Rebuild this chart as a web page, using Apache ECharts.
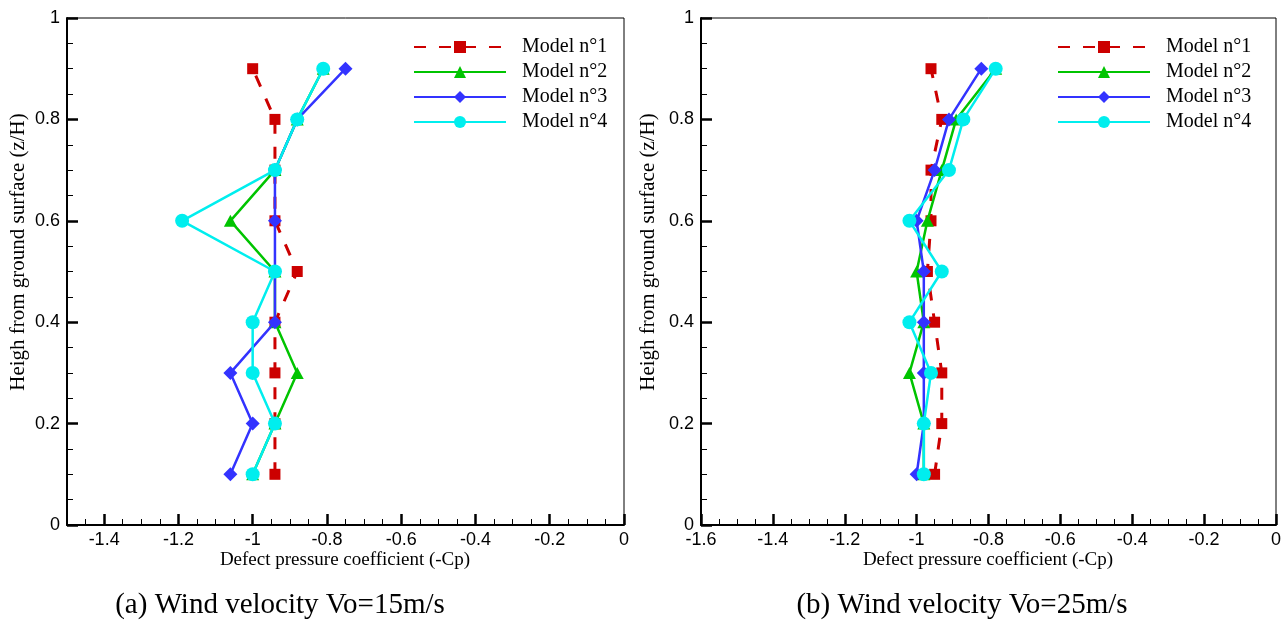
<!DOCTYPE html>
<html>
<head>
<meta charset="utf-8">
<title>Defect pressure coefficient profiles</title>
<script src="https://cdn.jsdelivr.net/npm/echarts@6/dist/echarts.min.js"></script>
<style>
  html, body { margin: 0; padding: 0; background: #fff; }
  #chart { width: 1287px; height: 623px; }
</style>
</head>
<body>
<div id="chart"></div>
<script>
// Measurement heights (z/H)
const heights = [0.1, 0.2, 0.3, 0.4, 0.5, 0.6, 0.7, 0.8, 0.9];
const modelNames = ['Model n°1', 'Model n°2', 'Model n°3', 'Model n°4'];

// (a) Vo = 15 m/s : defect pressure coefficient (-Cp) per height
const m1Vo15 = [-0.94, -0.94, -0.94, -0.94, -0.88, -0.94, -0.94, -0.94, -1.00];
const m2Vo15 = [-1.00, -0.94, -0.88, -0.94, -0.94, -1.06, -0.94, -0.88, -0.81];
const m3Vo15 = [-1.06, -1.00, -1.06, -0.94, -0.94, -0.94, -0.94, -0.88, -0.75];
const m4Vo15 = [-1.00, -0.94, -1.00, -1.00, -0.94, -1.19, -0.94, -0.88, -0.81];

// (b) Vo = 25 m/s
const m1Vo25 = [-0.95, -0.93, -0.93, -0.95, -0.97, -0.96, -0.96, -0.93, -0.96];
const m2Vo25 = [-0.98, -0.98, -1.02, -0.98, -1.00, -0.97, -0.93, -0.89, -0.78];
const m3Vo25 = [-1.00, -0.98, -0.98, -0.98, -0.98, -1.00, -0.95, -0.91, -0.82];
const m4Vo25 = [-0.98, -0.98, -0.96, -1.02, -0.93, -1.02, -0.91, -0.87, -0.78];

// Panel text
const yTitle = 'Heigh from ground surface (z/H)';
const xTitle = 'Defect pressure coefficient (-Cp)';
const captionA = '(a) Wind velocity Vo=15m/s';
const captionB = '(b) Wind velocity Vo=25m/s';

const SANS = '"Liberation Sans", Arial, sans-serif';
const SERIF = '"Liberation Serif", "Times New Roman", serif';

const styles = [
  { color: '#cc0000', symbol: 'rect', size: 11, line: { width: 3, type: [12, 13] } },
  { color: '#00c400', symbol: 'triangle', size: [13, 12], line: { width: 2.5, type: 'solid' } },
  { color: '#3333ff', symbol: 'diamond', size: 14, line: { width: 2.5, type: 'solid' } },
  { color: '#00eeee', symbol: 'circle', size: 14, line: { width: 2.5, type: 'solid' } }
];

function makeSeries(values, idx, xAxisIndex, yAxisIndex) {
  const st = styles[idx];
  return {
    name: modelNames[idx],
    type: 'line',
    xAxisIndex: xAxisIndex,
    yAxisIndex: yAxisIndex,
    data: values.map((v, i) => [v, heights[i]]),
    symbol: st.symbol,
    symbolSize: st.size,
    showAllSymbol: true,
    itemStyle: { color: st.color },
    lineStyle: { color: st.color, width: st.line.width, type: st.line.type },
    animation: false,
    z: 2 + idx
  };
}

const yAxisBase = (gridIndex) => ({
  type: 'value',
  gridIndex: gridIndex,
  position: 'left',
  min: 0, max: 1, interval: 0.2,
  axisLine: { show: true, onZero: false, lineStyle: { color: '#000', width: 2 } },
  axisTick: { show: true, inside: true, length: 11, lineStyle: { color: '#000', width: 2.5 } },
  minorTick: { show: true, splitNumber: 4, length: 6, lineStyle: { color: '#000', width: 1 } },
  axisLabel: { color: '#000', fontFamily: SANS, fontSize: 18, margin: 7 },
  splitLine: { show: false }
});

const tickAxisStyle = {
  position: 'bottom',
  axisLine: { show: true, onZero: false, lineStyle: { color: '#000', width: 2 } },
  axisTick: { show: true, inside: true, length: 11, lineStyle: { color: '#000', width: 2.5 } },
  axisLabel: { color: '#000', fontFamily: SANS, fontSize: 18, margin: 6 },
  splitLine: { show: false }
};

const legendBase = {
  orient: 'vertical',
  top: 37,
  padding: 0,
  itemWidth: 92,
  itemHeight: 15,
  itemGap: 5,
  data: modelNames,
  textStyle: { color: '#000', fontFamily: SERIF, fontSize: 20, lineHeight: 20, padding: [0, 0, 0, 11] },
  selectedMode: false
};

const option = {
  backgroundColor: '#fff',
  animation: false,
  grid: [
    { left: 67, right: 663, top: 18, bottom: 98, show: true, borderColor: '#000', borderWidth: 1 },
    { left: 701, right: 11, top: 18, bottom: 98, show: true, borderColor: '#000', borderWidth: 1 }
  ],
  xAxis: [
    Object.assign({
      type: 'value', gridIndex: 0,
      min: -1.5, max: 0, splitNumber: 8, minInterval: 0.2, maxInterval: 0.2
    }, tickAxisStyle, {
      axisLabel: Object.assign({}, tickAxisStyle.axisLabel, { showMinLabel: false })
    }),
    {
      // minor ticks of panel (a), every 0.05
      type: 'value', gridIndex: 0, position: 'bottom',
      min: -1.5, max: 0, interval: 0.05,
      axisLine: { show: false, onZero: false },
      axisTick: { show: true, inside: true, length: 6, lineStyle: { color: '#000', width: 1 } },
      axisLabel: { show: false },
      splitLine: { show: false }
    },
    Object.assign({
      type: 'value', gridIndex: 1,
      min: -1.6, max: 0, interval: 0.2,
      minorTick: { show: true, splitNumber: 4, length: 6, lineStyle: { color: '#000', width: 1 } }
    }, tickAxisStyle)
  ],
  yAxis: [yAxisBase(0), yAxisBase(1)],
  legend: [
    Object.assign({}, legendBase, { left: 413 }),
    Object.assign({}, legendBase, { left: 1057 })
  ],
  graphic: [
    { type: 'text', x: 18, y: 252, rotation: Math.PI / 2,
      style: { text: yTitle, font: '21px ' + SERIF, fill: '#000', textAlign: 'center', textVerticalAlign: 'middle' } },
    { type: 'text', x: 648, y: 252, rotation: Math.PI / 2,
      style: { text: yTitle, font: '21px ' + SERIF, fill: '#000', textAlign: 'center', textVerticalAlign: 'middle' } },
    { type: 'text', x: 345, y: 560,
      style: { text: xTitle, font: '19px ' + SERIF, fill: '#000', textAlign: 'center', textVerticalAlign: 'middle' } },
    { type: 'text', x: 988, y: 560,
      style: { text: xTitle, font: '19px ' + SERIF, fill: '#000', textAlign: 'center', textVerticalAlign: 'middle' } },
    { type: 'text', x: 280, y: 605,
      style: { text: captionA, font: '29px ' + SERIF, fill: '#000', textAlign: 'center', textVerticalAlign: 'middle' } },
    { type: 'text', x: 962, y: 605,
      style: { text: captionB, font: '29px ' + SERIF, fill: '#000', textAlign: 'center', textVerticalAlign: 'middle' } }
  ],
  series: [
    makeSeries(m1Vo15, 0, 0, 0),
    makeSeries(m2Vo15, 1, 0, 0),
    makeSeries(m3Vo15, 2, 0, 0),
    makeSeries(m4Vo15, 3, 0, 0),
    makeSeries(m1Vo25, 0, 2, 1),
    makeSeries(m2Vo25, 1, 2, 1),
    makeSeries(m3Vo25, 2, 2, 1),
    makeSeries(m4Vo25, 3, 2, 1)
  ]
};

const chart = echarts.init(document.getElementById('chart'), null, { renderer: 'canvas' });
chart.setOption(option);
</script>
</body>
</html>
